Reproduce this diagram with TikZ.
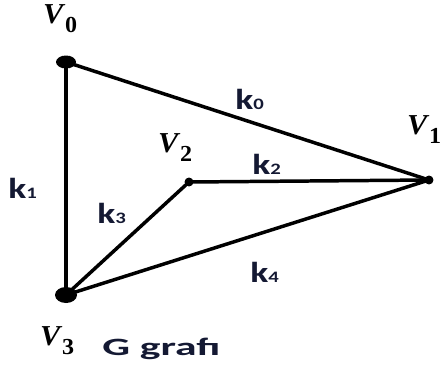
\documentclass[tikz,border=0pt]{standalone}
\usepackage{fontspec}
\usetikzlibrary{shapes.geometric}
\newfontfamily\kfont{Carlito}
\newfontfamily\vfont{Liberation Serif}
\definecolor{txt}{rgb}{0.08,0.10,0.20}
\newcommand{\vlab}[1]{{\vfont\bfseries\itshape V}\hspace{1.5bp}\raisebox{-9bp}{\vfont\bfseries\fontsize{23}{23}\selectfont #1}}
\newcommand{\klab}[1]{k\raisebox{-0.5bp}{\fontsize{16}{16}\selectfont #1}}
\tikzset{
  edge/.style={line width=3.5pt, black},
  bigdot/.style={ellipse, fill=black, inner sep=0pt},
  smalldot/.style={circle, fill=black, inner sep=0pt, minimum size=9pt},
  vl/.style={font=\fontsize{29}{29}\selectfont, text=black, inner sep=0pt, anchor=base west, xscale=1.05},
  kl/.style={font=\kfont\bfseries\fontsize{29}{29}\selectfont, text=txt, inner sep=0pt, anchor=base west, xscale=1.3},
  gl/.style={font=\kfont\bfseries\fontsize{25}{25}\selectfont, text=txt, inner sep=0pt, anchor=base west, xscale=1.75}
}
\begin{document}
\begin{tikzpicture}[x=1bp,y=1bp]
\useasboundingbox (0,0) rectangle (441,367);
\node[bigdot, minimum width=20bp, minimum height=13bp] (v0) at (66,305) {};
\node[smalldot] (v1) at (429,187) {};
\node[smalldot] (v2) at (189,185) {};
\node[bigdot, minimum width=22bp, minimum height=16bp] (v3) at (66,72) {};
\draw[edge] (v0.center) -- (v1.center);
\draw[edge] (v0.center) -- (v3.center);
\draw[edge] (v2.center) -- (v1.center);
\draw[edge] (v3.center) -- (v2.center);
\draw[edge] (v3.center) -- (v1.center);
\node[vl] (l0) at (43,344) {\vlab{0}};
\node[vl] (l1) at (407,233) {\vlab{1}};
\node[vl] (l2) at (158,215) {\vlab{2}};
\node[vl] (l3) at (40,22) {\vlab{3}};
\node[kl] (k0) at (235,258) {\klab{0}};
\node[kl] (k1) at (8,169) {\klab{1}};
\node[kl] (k2) at (252,193) {\klab{2}};
\node[kl] (k3) at (97,144) {\klab{3}};
\node[kl] (k4) at (250,85) {\klab{4}};
\node[gl] (g) at (102,12) {G grafı};
\end{tikzpicture}
\end{document}
